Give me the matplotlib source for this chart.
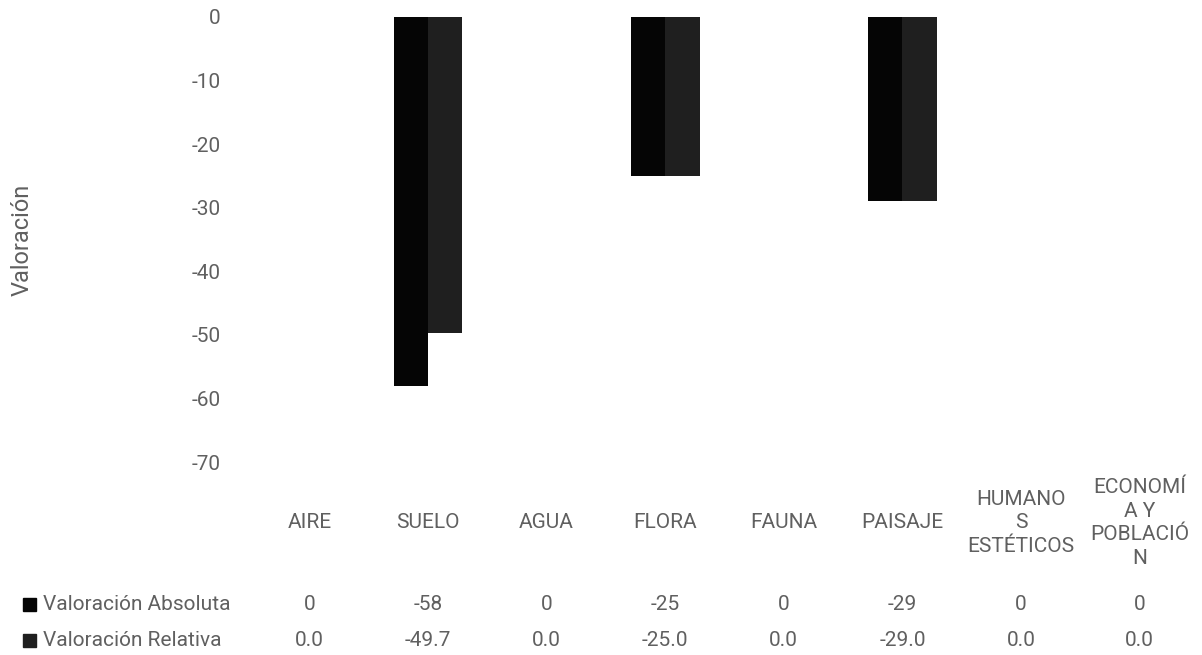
import numpy as np
import matplotlib
matplotlib.use('Agg')
import matplotlib.pyplot as plt
from matplotlib.patches import Rectangle

plt.rcParams['font.family'] = ['Roboto', 'DejaVu Sans']

categorias = ['AIRE', 'SUELO', 'AGUA', 'FLORA', 'FAUNA', 'PAISAJE',
              'HUMANO\nS\nESTÉTICOS', 'ECONOMÍ\nA Y\nPOBLACIÓ\nN']
valoracion_absoluta = [0, -58, 0, -25, 0, -29, 0, 0]
valoracion_relativa = [0.0, -49.7, 0.0, -25.0, 0.0, -29.0, 0.0, 0.0]
series = ['Valoración Absoluta', 'Valoración Relativa']
colores = ['#050505', '#1f1f1f']
gris = '#606060'
fs = 15

W, H = 1202, 655
fig = plt.figure(figsize=(W / 100, H / 100), dpi=100)
ax = fig.add_axes([250 / W, (H - 462) / H, 949 / W, 445 / H])

x = np.arange(len(categorias))
ancho = 0.29
ax.bar(x - ancho / 2, valoracion_absoluta, ancho, color=colores[0], linewidth=0)
ax.bar(x + ancho / 2, valoracion_relativa, ancho, color=colores[1], linewidth=0)

ax.set_xlim(-0.5, len(categorias) - 0.5)
ax.set_ylim(-70, 0)
ax.set_yticks(np.arange(-70, 1, 10))
ax.set_yticklabels([str(v) for v in np.arange(-70, 1, 10)], fontsize=fs, color=gris)
ax.tick_params(axis='y', length=0, pad=21)
ax.set_xticks([])
for s in ax.spines.values():
    s.set_visible(False)

fig.text(22 / W, 1 - 240 / H, 'Valoración', rotation=90, ha='center', va='center',
         fontsize=17, color=gris)

trans = ax.get_xaxis_transform()
def fy(py):
    return (462 - py) / 445

for i, cat in enumerate(categorias):
    ax.text(i, fy(523), cat, transform=trans, ha='center', va='center',
            fontsize=fs, color=gris, linespacing=1.32, clip_on=False)
    ax.text(i, fy(605), f'{valoracion_absoluta[i]:d}', transform=trans,
            ha='center', va='center', fontsize=fs, color=gris, clip_on=False)
    ax.text(i, fy(641), f'{valoracion_relativa[i]:.1f}', transform=trans,
            ha='center', va='center', fontsize=fs, color=gris, clip_on=False)

# leyenda de la tabla
for k, (nombre, col) in enumerate(zip(series, colores)):
    yc = [605, 641][k]
    fig.patches.append(Rectangle((23 / W, 1 - (yc + 6) / H), 13 / W, 13 / H,
                                 transform=fig.transFigure, color=col))
    fig.text(43 / W, 1 - yc / H, nombre, ha='left', va='center',
             fontsize=fs, color=gris)

fig.savefig('out.png', dpi=100)
